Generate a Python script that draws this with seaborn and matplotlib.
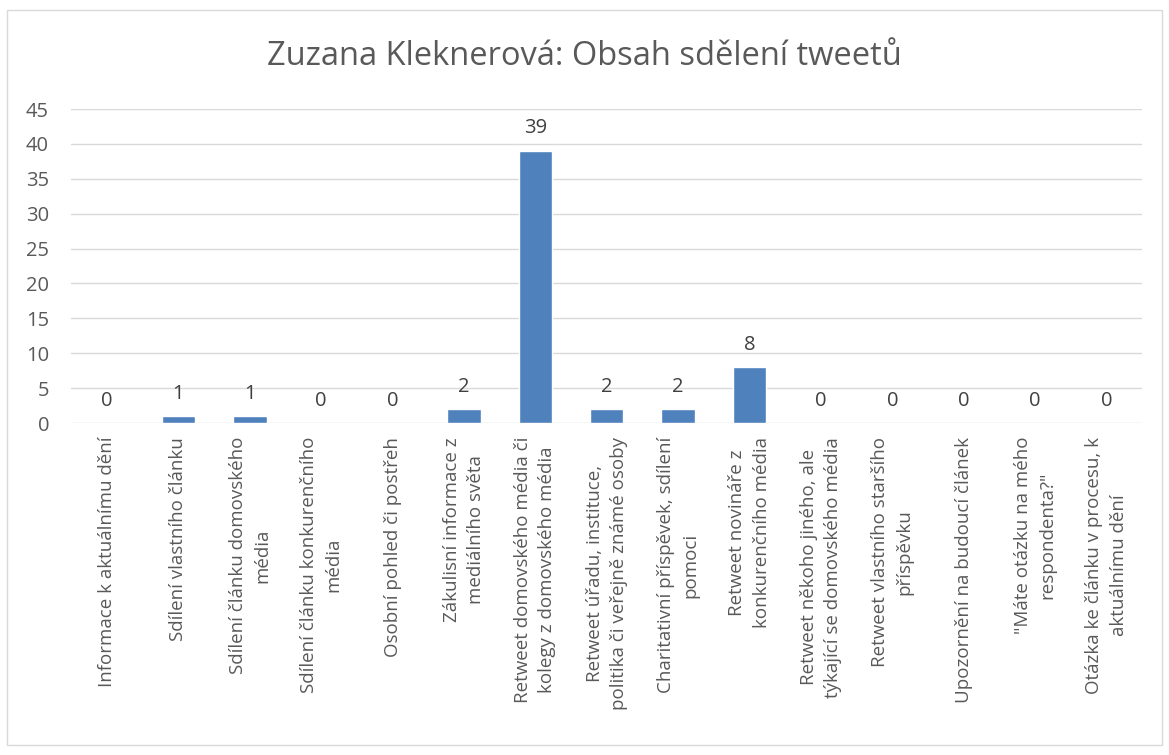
import matplotlib
matplotlib.use("Agg")
import matplotlib.pyplot as plt
import seaborn as sns
import pandas as pd
from matplotlib.patches import Rectangle

categories = [
    "Informace k aktuálnímu dění",
    "Sdílení vlastního článku",
    "Sdílení článku domovského\nmédia",
    "Sdílení článku konkurenčního\nmédia",
    "Osobní pohled či postřeh",
    "Zákulisní informace z\nmediálního světa",
    "Retweet domovského média či\nkolegy z domovského média",
    "Retweet úřadu, instituce,\npolitika či veřejně známé osoby",
    "Charitativní příspěvek, sdílení\npomoci",
    "Retweet novináře z\nkonkurenčního média",
    "Retweet někoho jiného, ale\ntýkající se domovského média",
    "Retweet vlastního staršího\npříspěvku",
    "Upozornění na budoucí článek",
    "\"Máte otázku na mého\nrespondenta?\"",
    "Otázka ke článku v procesu, k\naktuálnímu dění",
]
counts = [0, 1, 1, 0, 0, 2, 39, 2, 2, 8, 0, 0, 0, 0, 0]
title = "Zuzana Kleknerová: Obsah sdělení tweetů"

df = pd.DataFrame({"kategorie": categories, "pocet": counts})

sns.set_style("white")
plt.rcParams['font.family'] = ['Open Sans', 'DejaVu Sans']
text_color = '#595959'

fig = plt.figure(figsize=(11.69, 7.55), dpi=100)
ax = fig.add_axes([0.061, 0.4397, 0.916, 0.4159])

sns.barplot(data=df, x="kategorie", y="pocet", color="#4f81bd", width=0.47,
            saturation=1, ax=ax)

ax.set_ylim(0, 45)
ax.set_yticks(range(0, 46, 5))
ax.grid(axis='y', color='#d9d9d9', linewidth=1)
ax.set_axisbelow(True)
for s in ax.spines.values():
    s.set_visible(False)
ax.set_xlabel('')
ax.set_ylabel('')
ax.tick_params(axis='both', length=0, colors=text_color)
ax.tick_params(axis='y', pad=16, labelsize=14.5)
ax.set_xticks(range(len(categories)))
ax.set_xticklabels(categories, rotation=90, ha='center', va='top',
                   multialignment='center', color=text_color, fontsize=13.5,
                   linespacing=1.45)
ax.tick_params(axis='x', pad=10)

ax.bar_label(ax.containers[0], labels=[str(v) for v in counts], padding=9,
             color='#404040', fontsize=14.5)

fig.text(0.5, 0.925, title, ha='center', va='center', fontsize=23.5, color=text_color)
fig.patches.append(Rectangle((0.006, 0.013), 0.988, 0.974, transform=fig.transFigure,
                             fill=False, edgecolor='#d9d9d9', linewidth=1))

fig.savefig("out.png", dpi=100)
